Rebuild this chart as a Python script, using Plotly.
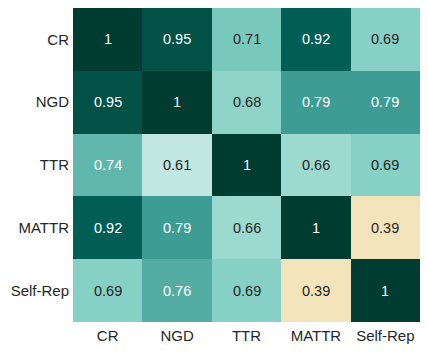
import plotly.graph_objects as go

labels = ["CR", "NGD", "TTR", "MATTR", "Self-Rep"]

cr = [1, 0.95, 0.71, 0.92, 0.69]
ngd = [0.95, 1, 0.68, 0.79, 0.79]
ttr = [0.74, 0.61, 1, 0.66, 0.69]
mattr = [0.92, 0.79, 0.66, 1, 0.39]
self_rep = [0.69, 0.76, 0.69, 0.39, 1]

z = [cr, ngd, ttr, mattr, self_rep]

# matplotlib BrBG, vmin 0 / vmax 1
brbg = [
    [0.0, "#543005"], [0.1, "#8c510a"], [0.2, "#bf812d"], [0.3, "#dfc27d"],
    [0.4, "#f6e8c3"], [0.5, "#f5f5f5"], [0.6, "#c7eae5"], [0.7, "#80cdc1"],
    [0.8, "#35978f"], [0.9, "#01665e"], [1.0, "#003c30"],
]

fig = go.Figure(
    go.Heatmap(
        z=z, x=labels, y=labels,
        colorscale=brbg, zmin=0, zmax=1,
        showscale=False, hoverinfo="skip",
    )
)

for i, row in enumerate(z):
    for j, v in enumerate(row):
        fig.add_annotation(
            x=labels[j], y=labels[i], text=f"{v:g}", showarrow=False,
            font=dict(size=14.5, color="white" if v >= 0.73 else "#262626"),
        )

# page body adds an 8px margin, so keep the figure inside the window
fig.update_layout(
    width=412, height=338,
    margin=dict(l=65, r=0, t=0, b=24),
    plot_bgcolor="white", paper_bgcolor="white",
    font=dict(family="Liberation Sans, Arial, sans-serif", size=15, color="#262626"),
)
fig.update_xaxes(showgrid=False, zeroline=False, automargin=False, ticklabelstandoff=3)
fig.update_yaxes(showgrid=False, zeroline=False, automargin=False,
                 autorange="reversed", ticklabelstandoff=3)

fig.write_html("out.html")
